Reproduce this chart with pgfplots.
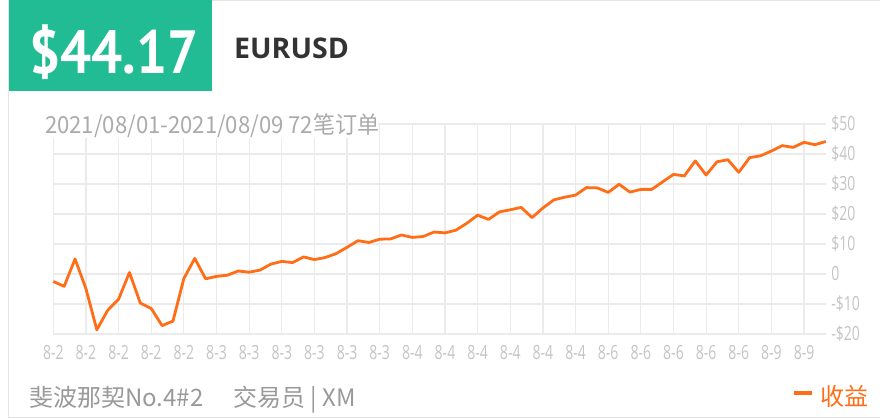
\documentclass[border=0pt]{standalone}
\usepackage{pgfplots}
\pgfplotsset{compat=1.18}
\usepackage{fontspec}
\setmainfont{Open Sans}
\newfontfamily\ticksfont[FakeStretch=0.72]{Open Sans}
\newfontfamily\cjk{Noto Sans CJK SC}
\newfontfamily\cjknarrow[FakeStretch=0.94]{Noto Sans CJK SC}
\newfontfamily\bigfont[FakeStretch=0.9]{PT Sans}
\definecolor{cardgreen}{HTML}{21BC94}
\definecolor{tickgray}{HTML}{C4C4C4}
\definecolor{subgray}{HTML}{ABABAB}
\definecolor{botgray}{HTML}{999999}
\definecolor{gridgray}{HTML}{EBEBEB}
\definecolor{bordergray}{HTML}{E4E4E4}
\definecolor{darktext}{HTML}{333333}
\definecolor{lineorange}{HTML}{FF6D17}
\begin{document}
\begin{tikzpicture}
\path[use as bounding box] (0pt,0pt) rectangle (880pt,419pt);
% chart
\begin{axis}[
  at={(53.3pt,85pt)}, anchor=south west,
  scale only axis, width=772.5pt, height=210pt,
  xmin=0, xmax=71, ymin=-20, ymax=50,
  axis line style={draw=none},
  major tick style={draw=none},
  grid=major,
  major grid style={color=gridgray, line width=1.2pt},
  xtick={0,3,...,69},
  xticklabels={8-2,8-2,8-2,8-2,8-2,8-3,8-3,8-3,8-3,8-3,8-3,8-4,8-4,8-4,8-4,8-4,8-4,8-6,8-6,8-6,8-6,8-6,8-9,8-9},
  ytick={-20,-10,0,10,20,30,40,50},
  yticklabels={-\$20,-\$10,0,\$10,\$20,\$30,\$40,\$50},
  yticklabel pos=right,
  tick label style={font=\ticksfont\fontsize{19.5}{19.5}\selectfont, text=tickgray},
  yticklabel style={anchor=west, xshift=2pt},
  xticklabel style={yshift=-8pt},
  clip=false,
]
\addplot[color=lineorange, line width=2.8pt, line join=round] coordinates {
(0,-2.5)(1,-4.1)(2,5.0)(3,-4.9)(4,-18.6)(5,-12.1)(6,-8.4)(7,0.5)(8,-9.7)(9,-11.5)
(10,-17.2)(11,-15.7)(12,-1.5)(13,5.2)(14,-1.6)(15,-0.8)(16,-0.4)(17,1.0)(18,0.6)(19,1.3)
(20,3.3)(21,4.2)(22,3.8)(23,5.7)(24,4.8)(25,5.5)(26,6.8)(27,8.9)(28,11.1)(29,10.5)
(30,11.6)(31,11.7)(32,13.0)(33,12.2)(34,12.5)(35,14.0)(36,13.7)(37,14.6)(38,16.9)(39,19.6)
(40,18.2)(41,20.7)(42,21.4)(43,22.2)(44,18.8)(45,22.0)(46,24.7)(47,25.6)(48,26.3)(49,28.8)
(50,28.7)(51,27.2)(52,29.9)(53,27.3)(54,28.2)(55,28.2)(56,30.7)(57,33.2)(58,32.7)(59,37.7)
(60,33.0)(61,37.4)(62,38.1)(63,33.9)(64,38.8)(65,39.4)(66,41.0)(67,42.8)(68,42.2)(69,43.9)
(70,43.1)(71,44.17)
};
\end{axis}
\begin{scope}[x=1pt,y=1pt]
% card border
\draw[bordergray,line width=1pt] (880,418) -- (8.5,418) -- (8.5,1) -- (880,1);
% green box
\fill[cardgreen] (9,419) rectangle (212,328.3);
\node[anchor=base west,inner sep=0,text=white] at (29,345.7)
  {\bigfont\bfseries\fontsize{61}{61}\selectfont \$44.17};
\node[anchor=base west,inner sep=0,text=darktext] at (234,360)
  {\bfseries\fontsize{28.5}{28.5}\selectfont EURUSD};
% subtitle with white background
\fill[white] (40,309) rectangle (378,281);
\node[anchor=base west,inner sep=0,text=subgray] at (45,285.5)
  {\cjknarrow\fontsize{23.5}{23.5}\selectfont 2021/08/01-2021/08/09 72笔订单};
% bottom texts
\node[anchor=base west,inner sep=0,text=botgray] at (29,12.5)
  {\cjk\fontsize{24}{24}\selectfont 斐波那契No.4\#2\hspace{30pt}交易员 | XM};
\fill[lineorange] (794,27.5) rectangle (812,23.5);
\node[anchor=base west,inner sep=0,text=lineorange] at (820,13.5)
  {\cjk\fontsize{24}{24}\selectfont 收益};
\end{scope}
\end{tikzpicture}
\end{document}
